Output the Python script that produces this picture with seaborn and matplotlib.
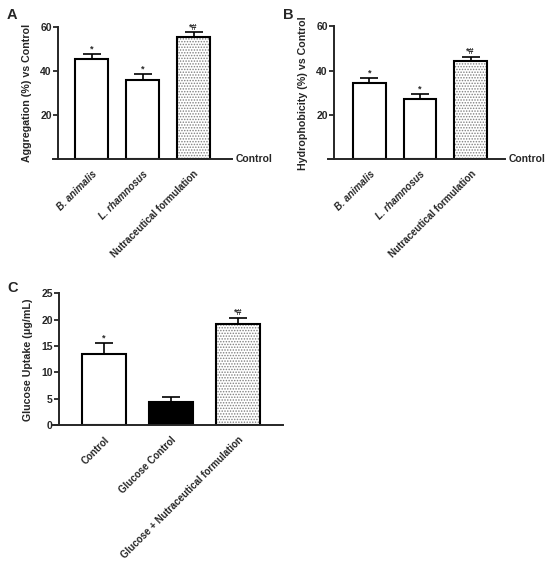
import matplotlib
matplotlib.use("Agg")
import matplotlib.pyplot as plt
import seaborn as sns

strains = ["B. animalis", "L. rhamnosus", "Nutraceutical formulation"]
aggregation = [45.5, 36.0, 55.6]
aggregation_err = [2.2, 2.6, 2.0]
hydrophobicity = [34.6, 27.1, 44.4]
hydrophobicity_err = [2.0, 2.4, 1.7]
strain_marks = ["*", "*", "*#"]

glucose_groups = ["Control", "Glucose Control", "Glucose + Nutraceutical formulation"]
glucose_uptake = [13.5, 4.5, 19.2]
glucose_err = [2.0, 0.9, 1.1]
glucose_marks = ["*", "", "*#"]

sns.set_style("ticks")
plt.rcParams["font.family"] = ["Liberation Sans", "DejaVu Sans"]
plt.rcParams["font.weight"] = "bold"
plt.rcParams["hatch.linewidth"] = 0.7


def panel(ax, cats, vals, errs, marks, fills, hatches, ylim, yticks, ylabel,
          xlim, spine_x, italic_n=0, control=False):
    sns.barplot(x=cats, y=vals, hue=cats, palette=fills, legend=False, order=cats,
                width=0.65, edgecolor="black", linewidth=1.5, ax=ax, zorder=2)
    for p, h in zip(ax.patches, hatches):
        if h:
            p.set_hatch(h)
            p._hatch_color = (0.5, 0.5, 0.5, 1.0)
    ax.errorbar(range(len(cats)), vals, yerr=[[0] * len(errs), errs], fmt="none",
                ecolor="black", elinewidth=1.2, capsize=6.5, capthick=1.2, zorder=1)
    # significance marks just above the caps
    for i, (v, e, m) in enumerate(zip(vals, errs, marks)):
        ax.annotate(m, xy=(i, v + e), xytext=(0, 0.5), textcoords="offset points",
                    ha="center", va="bottom", fontsize=6.5, fontweight="bold")
    ax.set_xlim(*xlim)
    ax.set_ylim(*ylim)
    ax.set_yticks(yticks)
    ax.spines["top"].set_visible(False)
    ax.spines["right"].set_visible(False)
    ax.spines["left"].set_position(("data", spine_x))
    ax.spines["left"].set_linewidth(1.4)
    ax.spines["bottom"].set_linewidth(1.4)
    ax.tick_params(axis="y", length=3.6, width=1.3, labelsize=7.5, pad=1)
    ax.tick_params(axis="x", length=0, labelsize=7, pad=7)
    ax.set_xticks(range(len(cats)))
    ax.set_xticklabels(cats, rotation=45, ha="right", rotation_mode="anchor")
    for i, t in enumerate(ax.get_xticklabels()):
        t.set_fontweight("bold")
        if i < italic_n:
            t.set_fontstyle("italic")
    for t in ax.get_yticklabels():
        t.set_fontweight("bold")
    ax.set_xlabel("")
    ax.set_ylabel(ylabel, fontsize=7.7, fontweight="bold", labelpad=6)
    if control:
        ax.annotate("Control", xy=(1.0, 0), xycoords=("axes fraction", "data"),
                    xytext=(2.5, 0), textcoords="offset points", va="center",
                    ha="left", fontsize=7.5, fontweight="bold")


fig = plt.figure(figsize=(5.5, 5.63), dpi=100)

ax_a = fig.add_axes([0.0964, 0.7176, 0.3255, 0.2345])
panel(ax_a, strains, aggregation, aggregation_err, strain_marks,
      ["white", "white", "white"], ["", "", "......"], (0, 60), [20, 40, 60],
      "Aggregation (%) vs Control", (-0.755, 2.755), -0.657, italic_n=2, control=True)

ax_b = fig.add_axes([0.5964, 0.7176, 0.3218, 0.2355])
panel(ax_b, strains, hydrophobicity, hydrophobicity_err, strain_marks,
      ["white", "white", "white"], ["", "", "......"], (0, 60), [20, 40, 60],
      "Hydrophobicity (%) vs Control", (-0.82, 2.68), -0.70, italic_n=2, control=True)

ax_c = fig.add_axes([0.0964, 0.2446, 0.4182, 0.2345])
panel(ax_c, glucose_groups, glucose_uptake, glucose_err, glucose_marks,
      ["white", "black", "white"], ["", "", "......"], (0, 25), [0, 5, 10, 15, 20, 25],
      "Glucose Uptake (μg/mL)", (-0.76, 2.67), -0.67)

for label, (x, y) in zip(["A", "B", "C"], [(7, 8), (283, 8), (7, 281)]):
    fig.text(x / 550, 1 - y / 563, label, fontsize=10.5, fontweight="bold",
             ha="left", va="top")

fig.savefig("out.png", dpi=100)
